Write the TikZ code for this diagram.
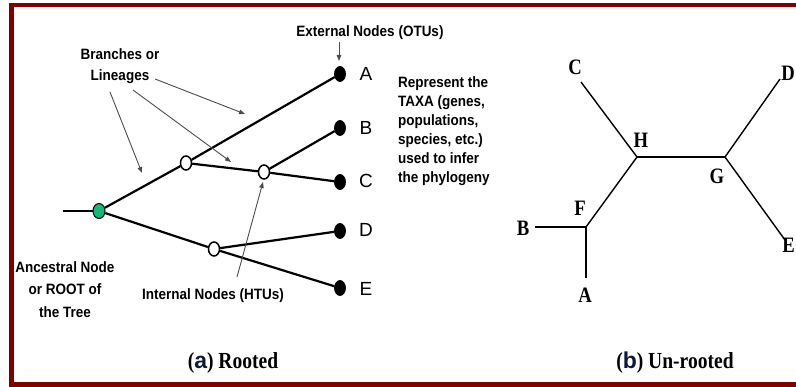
\documentclass[tikz,border=0pt]{standalone}
\usepackage{fontspec}
\setmainfont{Liberation Serif}
\newfontfamily\sansb{Liberation Sans}[FakeStretch=0.9]
\newfontfamily\sansa{Liberation Sans}
\newfontfamily\serifc{Liberation Serif}[FakeStretch=0.85]
\usetikzlibrary{arrows.meta,shapes.geometric}
\definecolor{framered}{RGB}{128,0,0}
\definecolor{rootgreen}{RGB}{20,185,120}
\definecolor{capnavy}{RGB}{15,25,60}
\begin{document}
\begin{tikzpicture}[x=1pt,y=-1pt,
  branch/.style={line width=2.2pt},
  tipnode/.style={ellipse, draw, fill=black, minimum width=11pt, minimum height=15pt, inner sep=0pt, line width=0.8pt},
  hnode/.style={ellipse, draw, fill=white, minimum width=11pt, minimum height=14pt, inner sep=0pt, line width=1.5pt},
  rootnode/.style={ellipse, draw, fill=rootgreen, minimum width=12pt, minimum height=15pt, inner sep=0pt, line width=1pt},
  pointer/.style={draw=black!70, line width=0.9pt, -{Triangle[length=6pt,width=4.5pt]}},
  note/.style={font=\sansb\bfseries\fontsize{15}{19}\selectfont, inner sep=0pt},
  tiplbl/.style={font=\sansa\fontsize{19}{21}\selectfont, inner sep=0pt},
  ulbl/.style={font=\serifc\bfseries\fontsize{22}{24}\selectfont, inner sep=0pt},
  uline/.style={line width=1.4pt},
  captionlbl/.style={font=\serifc\bfseries\fontsize{23}{25}\selectfont, inner sep=0pt, anchor=base}
]
\useasboundingbox (0,0) rectangle (796,387);
\clip (0,0) rectangle (796,387);
% frame
\draw[framered, line width=4.6pt] (11.2,5) rectangle (840,384.5);

% ---------- (a) Rooted ----------
\coordinate (rootstart) at (63,211);
\node[rootnode] (root) at (99,211) {};
\node[hnode] (n1) at (186,163) {};
\node[hnode] (n2) at (264,172) {};
\node[hnode] (n3) at (214,249) {};
\node[tipnode] (tA) at (340,74) {};
\node[tipnode] (tB) at (340,128) {};
\node[tipnode] (tC) at (340,182) {};
\node[tipnode] (tD) at (340,231) {};
\node[tipnode] (tE) at (340,288) {};

\draw[branch] (rootstart) -- (root);
\draw[branch] (root) -- (n1);
\draw[branch] (n1) -- (tA);
\draw[branch] (n1) -- (n2);
\draw[branch] (n2) -- (tB);
\draw[branch] (n2) -- (tC);
\draw[branch] (root) -- (n3);
\draw[branch] (n3) -- (tD);
\draw[branch] (n3) -- (tE);

\node[tiplbl] (lA) at (366,74) {A};
\node[tiplbl] (lB) at (366,128) {B};
\node[tiplbl] (lC) at (366,181) {C};
\node[tiplbl] (lD) at (366,230) {D};
\node[tiplbl] (lE) at (366,289) {E};

% annotations
\node[note, anchor=base] (ext) at (370,37) {External Nodes (OTUs)};
\coordinate (extarrow) at (339,42);
\coordinate (extend) at (339,61);
\draw[pointer] (extarrow) -- (extend);

\node[note, align=center, anchor=north] (branches) at (120,48) {Branches or\\[2pt]Lineages};
\coordinate (b1s) at (110,92);  \coordinate (b1e) at (142,173);
\coordinate (b2s) at (133,90);  \coordinate (b2e) at (231,162);
\coordinate (b3s) at (155,79);  \coordinate (b3e) at (245,114);
\draw[pointer] (b1s) -- (b1e);
\draw[pointer] (b2s) -- (b2e);
\draw[pointer] (b3s) -- (b3e);

\node[note, anchor=base] (internal) at (213,300) {Internal Nodes (HTUs)};
\coordinate (ins) at (237,277);
\coordinate (ine) at (263,182);
\draw[pointer] (ins) -- (ine);

\node[note, align=center, anchor=north] (ancestral) at (65,261) {Ancestral Node\\[3.5pt]or ROOT of\\[3.5pt]the Tree};

\node[note, align=left, anchor=north west] (taxa) at (398,76) {Represent the\\TAXA (genes,\\populations,\\species, etc.)\\used to infer\\the phylogeny};

\node[captionlbl] (capa) at (233,369) {(\textcolor{capnavy}{\sansa\bfseries a}) Rooted};

% ---------- (b) Un-rooted ----------
\coordinate (jH) at (637,157);
\coordinate (jG) at (725,157);
\coordinate (jF) at (586,227);
\coordinate (eC) at (581,82);
\coordinate (eD) at (780,79);
\coordinate (eE) at (785,240);
\coordinate (eB) at (535,227);
\coordinate (eA) at (586,278);

\draw[uline] (eC) -- (jH);
\draw[line width=2.4pt] (jH) -- (jG);
\draw[uline] (jG) -- (eD);
\draw[uline] (jG) -- (eE);
\draw[uline] (jH) -- (jF);
\draw[line width=2pt] (eB) -- (jF);
\draw[uline] (jF) -- (eA);

\node[ulbl] (uC) at (575,67) {C};
\node[ulbl] (uH) at (641,140) {H};
\node[ulbl] (uG) at (717,176) {G};
\node[ulbl] (uF) at (580,208) {F};
\node[ulbl] (uB) at (523,228) {B};
\node[ulbl] (uA) at (585,295) {A};
\node[ulbl, anchor=east] (uD) at (795,73) {D};
\node[ulbl, anchor=east] (uE) at (795,245) {E};

\node[captionlbl] (capb) at (675,369) {(\textcolor{capnavy}{\sansa\bfseries b}) Un-rooted};
\end{tikzpicture}
\end{document}
